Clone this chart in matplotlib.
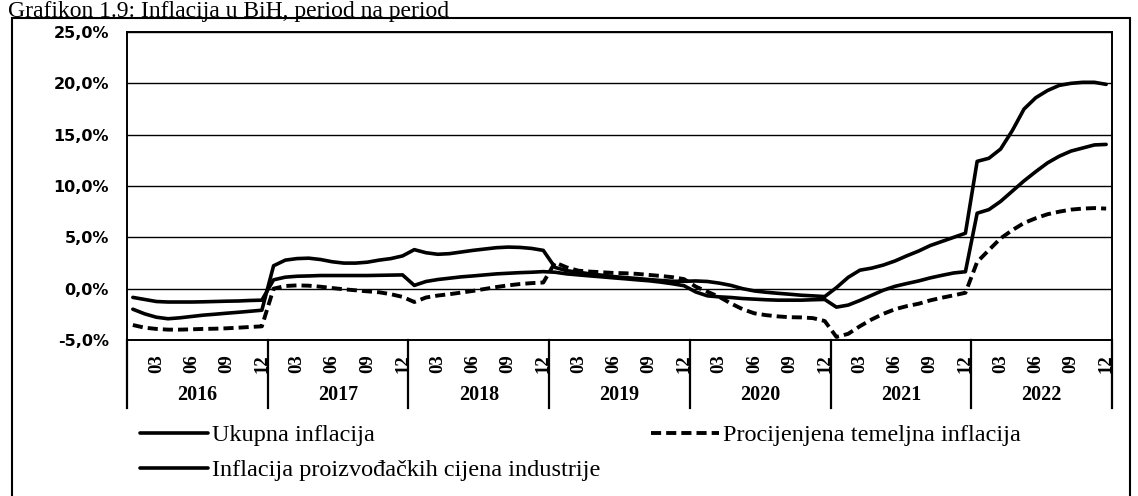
import matplotlib
matplotlib.use("Agg")
import matplotlib.pyplot as plt
import matplotlib.transforms as mtransforms
from matplotlib.patches import Rectangle

years = ["2016", "2017", "2018", "2019", "2020", "2021", "2022"]
month_labels = ["03", "06", "09", "12"]

# monthly values, Jan 2016 .. Dec 2022 (%)
ukupna = [
    -0.85, -1.05, -1.25, -1.30, -1.30, -1.30, -1.28, -1.25, -1.22, -1.20, -1.15, -1.12,
    0.86, 1.12, 1.21, 1.24, 1.28, 1.28, 1.28, 1.28, 1.28, 1.30, 1.32, 1.34,
    0.32, 0.70, 0.89, 1.02, 1.15, 1.24, 1.34, 1.44, 1.50, 1.56, 1.60, 1.66,
    1.60, 1.44, 1.34, 1.24, 1.15, 1.05, 0.96, 0.86, 0.77, 0.64, 0.48, 0.29,
    -0.32, -0.70, -0.80, -0.86, -0.96, -1.02, -1.08, -1.12, -1.12, -1.12, -1.08, -1.05,
    -1.80, -1.60, -1.15, -0.65, -0.15, 0.23, 0.50, 0.75, 1.05, 1.30, 1.53, 1.65,
    7.35, 7.70, 8.50, 9.50, 10.50, 11.40, 12.25, 12.90, 13.40, 13.70, 14.00, 14.05,
]

proizvodjacke = [
    -2.00, -2.45, -2.78, -2.93, -2.84, -2.71, -2.58, -2.49, -2.39, -2.30, -2.20, -2.10,
    2.23, 2.78, 2.93, 2.97, 2.84, 2.62, 2.49, 2.49, 2.58, 2.78, 2.93, 3.19,
    3.80, 3.50, 3.35, 3.41, 3.57, 3.73, 3.86, 3.99, 4.05, 4.02, 3.92, 3.73,
    2.07, 1.75, 1.60, 1.44, 1.31, 1.18, 1.08, 0.99, 0.89, 0.80, 0.72, 0.72,
    0.75, 0.70, 0.54, 0.32, 0.00, -0.22, -0.35, -0.45, -0.54, -0.64, -0.70, -0.77,
    0.10, 1.10, 1.80, 2.00, 2.30, 2.70, 3.20, 3.66, 4.20, 4.60, 5.00, 5.40,
    12.40, 12.70, 13.60, 15.40, 17.50, 18.60, 19.30, 19.80, 20.00, 20.10, 20.10, 19.90,
]

temeljna = [
    -3.54, -3.80, -3.92, -3.99, -3.99, -3.96, -3.92, -3.90, -3.86, -3.80, -3.73, -3.67,
    0.00, 0.26, 0.32, 0.29, 0.19, 0.06, -0.06, -0.16, -0.26, -0.35, -0.54, -0.80,
    -1.30, -0.86, -0.67, -0.54, -0.38, -0.22, -0.03, 0.16, 0.32, 0.45, 0.54, 0.60,
    2.55, 2.07, 1.75, 1.66, 1.60, 1.53, 1.50, 1.44, 1.34, 1.24, 1.12, 0.93,
    0.20, -0.30, -0.80, -1.44, -2.00, -2.40, -2.58, -2.70, -2.78, -2.80, -2.87, -3.15,
    -4.70, -4.40, -3.66, -3.00, -2.45, -2.00, -1.70, -1.47, -1.14, -0.88, -0.65, -0.40,
    2.60, 3.76, 4.90, 5.70, 6.40, 6.86, 7.25, 7.50, 7.70, 7.80, 7.85, 7.80,
]

W, H = 1138, 496
fig = plt.figure(figsize=(W / 100, H / 100), dpi=100)
ax = fig.add_axes([127 / W, 1 - 340 / H, 985 / W, 308 / H])

x = list(range(len(ukupna)))
l1, = ax.plot(x, ukupna, color="black", lw=2.6, solid_capstyle="round")
l2, = ax.plot(x, proizvodjacke, color="black", lw=2.6, solid_capstyle="round")
l3, = ax.plot(x, temeljna, color="black", lw=2.8, dashes=(2.6, 1.3))

ax.set_xlim(-0.5, len(x) - 0.5)
ax.set_ylim(-5, 25)
ax.set_yticks([-5, 0, 5, 10, 15, 20, 25])
ax.set_yticklabels([f"{v:.1f}%".replace(".", ",") for v in ax.get_yticks()],
                   family="DejaVu Sans", fontweight="bold", fontsize=11.5)
ax.tick_params(axis="y", length=0, pad=13)
ax.grid(axis="y", color="black", lw=1.0)
ax.set_axisbelow(True)
for s in ax.spines.values():
    s.set_linewidth(1.4)

# month labels on the category axis
ticks = [i for i in x if (i % 12 + 1) % 3 == 0]
ax.set_xticks(ticks)
ax.set_xticklabels(month_labels * len(years), rotation=90,
                   family="Liberation Serif", fontweight="bold", fontsize=13.5)
ax.tick_params(axis="x", length=0, pad=10)

# year groups with separators
trans = mtransforms.blended_transform_factory(ax.transData, ax.transAxes)
for k in range(len(years) + 1):
    ax.plot([12 * k - 0.5] * 2, [0, -0.221], transform=trans, color="black",
            lw=1.6, clip_on=False)
for k, yr in enumerate(years):
    ax.text(12 * k + 5.5, -0.178, yr, transform=trans, ha="center", va="center",
            family="Liberation Serif", fontweight="bold", fontsize=14.5)

fig.legend([l1, l2, l3],
           ["Ukupna inflacija", "Inflacija proizvođačkih cijena industrije",
            "Procijenjena temeljna inflacija"],
           ncol=2, loc="upper left", bbox_to_anchor=(140 / W, 1 - 424 / H),
           frameon=False, borderpad=0, borderaxespad=0, handlelength=2.8,
           handletextpad=0.15, columnspacing=2.1, labelspacing=0.55,
           prop={"family": "Liberation Serif", "size": 17.5})

fig.text(8 / W, 1 - 17 / H, "Grafikon 1.9: Inflacija u BiH, period na period",
         va="baseline", ha="left", family="Liberation Serif", fontsize=17)
fig.patches.append(Rectangle((12 / W, -0.02), (1130 - 12) / W, 1 - 18 / H + 0.02,
                             transform=fig.transFigure, fill=False,
                             edgecolor="black", lw=1.5))

fig.savefig("out.png", dpi=100)
